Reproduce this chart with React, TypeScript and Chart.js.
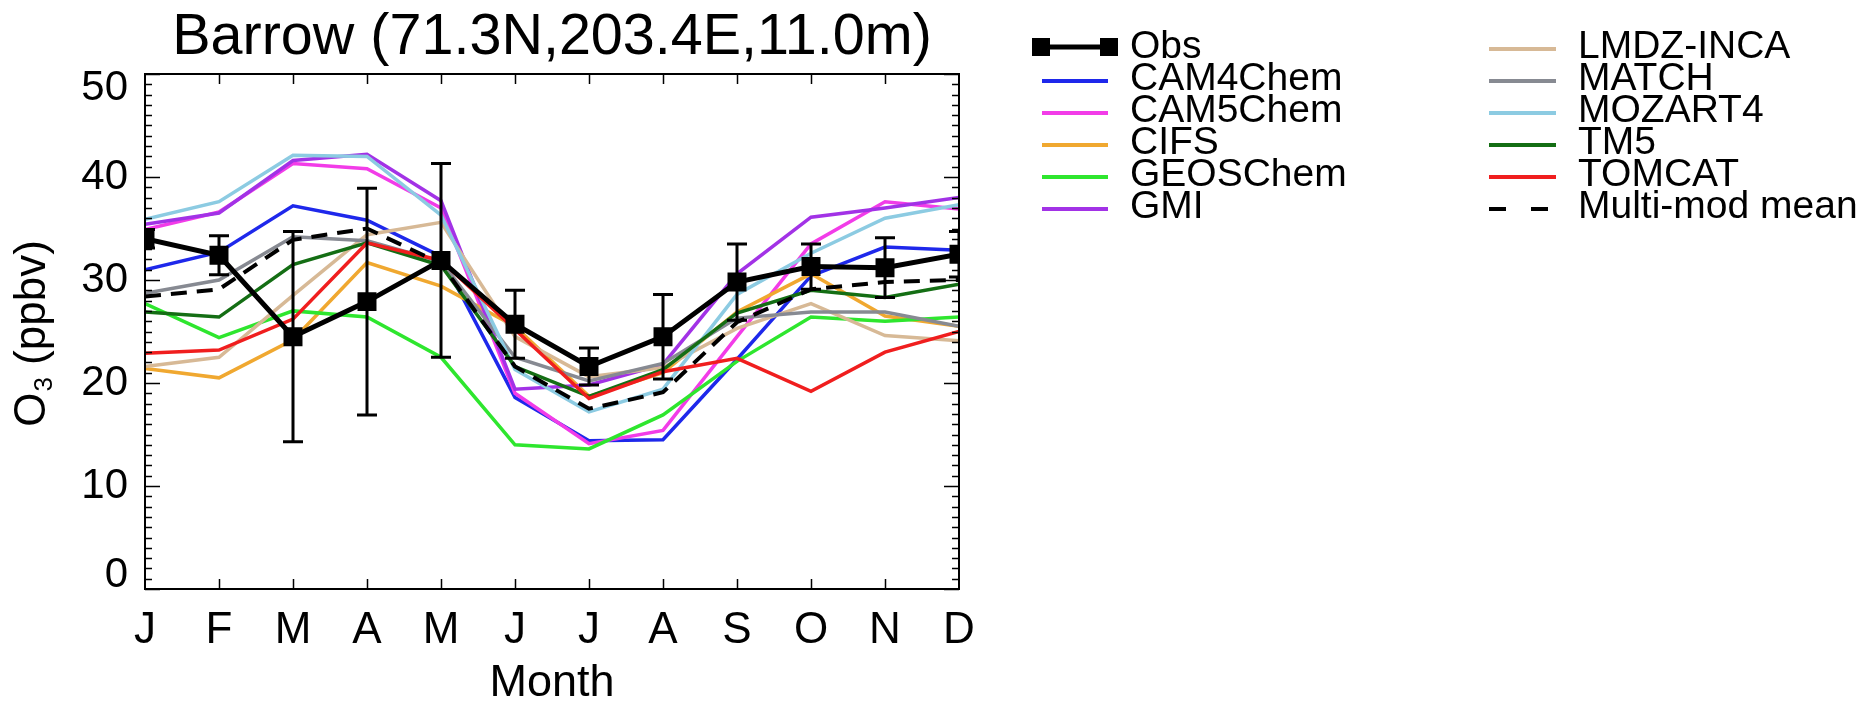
import React, { useEffect, useRef } from "react";
import { Chart, registerables } from "chart.js";

Chart.register(...registerables);

// ---------- data ----------
const months = ["J", "F", "M", "A", "M", "J", "J", "A", "S", "O", "N", "D"];
const yMin = 0;
const yMax = 50;
const yStep = 10;

const obs = [34.0, 32.4, 24.5, 27.9, 31.9, 25.7, 21.6, 24.5, 29.8, 31.3, 31.2, 32.5];
const obsErr = [0.9, 1.9, 10.2, 11.0, 9.4, 3.3, 1.8, 4.1, 3.7, 2.2, 2.9, 2.2];

const cam4chem = [31.0, 32.7, 37.2, 35.8, 32.3, 18.6, 14.4, 14.5, 22.3, 30.4, 33.2, 32.9];
const cam5chem = [34.9, 36.6, 41.3, 40.8, 37.0, 19.0, 14.1, 15.4, 24.5, 33.5, 37.6, 36.9];
const cifs = [21.4, 20.5, 24.2, 31.7, 29.4, 25.5, 18.7, 21.0, 26.9, 30.6, 26.5, 25.5];
const geoschem = [27.7, 24.4, 27.0, 26.4, 22.5, 14.0, 13.6, 16.9, 22.1, 26.4, 26.0, 26.4];
const gmi = [35.4, 36.5, 41.6, 42.2, 37.7, 19.4, 19.8, 21.8, 30.6, 36.1, 37.0, 38.0];
const lmdzInca = [21.6, 22.5, 28.5, 34.4, 35.6, 24.5, 20.6, 21.5, 25.3, 27.7, 24.6, 24.1];
const match = [28.7, 30.0, 34.2, 33.8, 31.8, 22.5, 20.2, 21.9, 26.3, 26.9, 26.9, 25.5];
const mozart4 = [35.9, 37.6, 42.1, 42.0, 36.3, 21.3, 17.2, 19.4, 28.6, 32.6, 36.0, 37.3];
const tm5 = [26.9, 26.4, 31.5, 33.6, 31.4, 21.6, 18.7, 21.3, 26.8, 29.0, 28.3, 29.6];
const tomcat = [22.9, 23.2, 26.2, 33.6, 31.9, 25.2, 18.5, 21.1, 22.4, 19.2, 23.0, 25.0];
const multiModMean = [28.4, 29.1, 33.9, 35.0, 31.6, 21.6, 17.5, 19.1, 25.9, 29.1, 29.8, 30.0];

const titleText = "Barrow (71.3N,203.4E,11.0m)";
const xTitle = "Month";

const legendCol1 = [
  { label: "CAM4Chem", color: "#1e28eb" },
  { label: "CAM5Chem", color: "#f23ce8" },
  { label: "CIFS", color: "#f0a830" },
  { label: "GEOSChem", color: "#2ee62e" },
  { label: "GMI", color: "#a232e6" },
];
const legendCol2 = [
  { label: "LMDZ-INCA", color: "#d7b996" },
  { label: "MATCH", color: "#878a92" },
  { label: "MOZART4", color: "#8ccbe2" },
  { label: "TM5", color: "#146e14" },
  { label: "TOMCAT", color: "#f01e1e" },
];

const FONT = '"Liberation Sans", Arial, Helvetica, sans-serif';

const modelLine = (label: string, data: number[], color: string) => ({
  label,
  data,
  borderColor: color,
  backgroundColor: color,
  borderWidth: 3.5,
  pointRadius: 0,
  tension: 0,
  clip: 0,
});

const decorPlugin = {
  id: "decor",
  afterDatasetsDraw(chart: any) {
    const { ctx, chartArea, scales } = chart;
    const { left, right, top, bottom } = chartArea;
    const x = scales.x;
    const y = scales.y;
    // error bars on observations
    ctx.save();
    ctx.beginPath();
    ctx.rect(left, top, right - left, bottom - top);
    ctx.clip();
    ctx.strokeStyle = "#000";
    ctx.lineWidth = 3;
    obs.forEach((v, i) => {
      const px = x.getPixelForValue(i);
      const yt = y.getPixelForValue(v + obsErr[i]);
      const yb = y.getPixelForValue(v - obsErr[i]);
      ctx.beginPath();
      ctx.moveTo(px, yt);
      ctx.lineTo(px, yb);
      ctx.moveTo(px - 10, yt);
      ctx.lineTo(px + 10, yt);
      ctx.moveTo(px - 10, yb);
      ctx.lineTo(px + 10, yb);
      ctx.stroke();
    });
    ctx.restore();
  },
  afterDraw(chart: any) {
    const { ctx, chartArea, scales } = chart;
    const { left, right, top, bottom } = chartArea;
    const x = scales.x;
    const y = scales.y;
    ctx.save();
    // frame
    ctx.strokeStyle = "#000";
    ctx.lineWidth = 2;
    ctx.strokeRect(left, top, right - left, bottom - top);
    // y ticks (inward, both sides)
    ctx.lineWidth = 1.5;
    ctx.beginPath();
    for (let v = yMin; v <= yMax; v += 1) {
      const py = Math.round(y.getPixelForValue(v)) + 0.5;
      const len = v % yStep === 0 ? 15 : 7;
      ctx.moveTo(left, py);
      ctx.lineTo(left + len, py);
      ctx.moveTo(right, py);
      ctx.lineTo(right - len, py);
    }
    // x ticks (inward, top and bottom)
    for (let i = 1; i < months.length - 1; i++) {
      const px = Math.round(x.getPixelForValue(i)) + 0.5;
      ctx.moveTo(px, bottom);
      ctx.lineTo(px, bottom - 10);
      ctx.moveTo(px, top);
      ctx.lineTo(px, top + 10);
    }
    ctx.stroke();

    ctx.fillStyle = "#000";
    // y tick labels (end labels nudged inward as in the original)
    ctx.font = `42px ${FONT}`;
    ctx.textAlign = "right";
    ctx.textBaseline = "middle";
    for (let v = yMin; v <= yMax; v += yStep) {
      let py = y.getPixelForValue(v);
      if (v === yMax) py += 14;
      if (v === yMin) py -= 14;
      ctx.fillText(String(v), left - 17, py);
    }

    // title
    ctx.font = `57.5px ${FONT}`;
    ctx.textAlign = "center";
    ctx.textBaseline = "alphabetic";
    ctx.fillText(titleText, (left + right) / 2, 54);
    // x title
    ctx.font = `45px ${FONT}`;
    ctx.fillText(xTitle, (left + right) / 2, 696);

    // y title: O3 (ppbv) with subscript
    ctx.save();
    ctx.translate(45, 334);
    ctx.rotate(-Math.PI / 2);
    ctx.textAlign = "left";
    ctx.font = `44px ${FONT}`;
    const wO = ctx.measureText("O").width;
    const rest = " (ppbv)";
    const wR = ctx.measureText(rest).width;
    ctx.font = `26px ${FONT}`;
    const w3 = ctx.measureText("3").width;
    let sx = -(wO + w3 + wR) / 2;
    ctx.font = `44px ${FONT}`;
    ctx.fillText("O", sx, 0);
    sx += wO;
    ctx.font = `26px ${FONT}`;
    ctx.fillText("3", sx + 1, 7);
    sx += w3 + 1;
    ctx.font = `44px ${FONT}`;
    ctx.fillText(rest, sx, 0);
    ctx.restore();

    // legend
    const rowY = (i: number) => 58 + 32 * i;
    ctx.font = `39px ${FONT}`;
    ctx.textAlign = "left";
    ctx.textBaseline = "alphabetic";
    // Obs entry
    const oy = rowY(0) - 11;
    ctx.strokeStyle = "#000";
    ctx.lineWidth = 5;
    ctx.beginPath();
    ctx.moveTo(1041, oy);
    ctx.lineTo(1109, oy);
    ctx.stroke();
    ctx.fillRect(1032, oy - 9, 18, 18);
    ctx.fillRect(1100, oy - 9, 18, 18);
    ctx.fillText("Obs", 1130, rowY(0));
    legendCol1.forEach((e, i) => {
      const ly = rowY(i + 1) - 9;
      ctx.strokeStyle = e.color;
      ctx.lineWidth = 4;
      ctx.beginPath();
      ctx.moveTo(1042, ly);
      ctx.lineTo(1108, ly);
      ctx.stroke();
      ctx.fillText(e.label, 1130, rowY(i + 1));
    });
    legendCol2.forEach((e, i) => {
      const ly = rowY(i) - 9;
      ctx.strokeStyle = e.color;
      ctx.lineWidth = 4;
      ctx.beginPath();
      ctx.moveTo(1489, ly);
      ctx.lineTo(1556, ly);
      ctx.stroke();
      ctx.fillText(e.label, 1578, rowY(i));
    });
    const my = rowY(5) - 9;
    ctx.strokeStyle = "#000";
    ctx.lineWidth = 4;
    ctx.setLineDash([17, 25]);
    ctx.beginPath();
    ctx.moveTo(1489, my);
    ctx.lineTo(1556, my);
    ctx.stroke();
    ctx.setLineDash([]);
    ctx.fillText("Multi-mod mean", 1578, rowY(5));
    ctx.restore();
  },
};

export default function App() {
  const canvasRef = useRef<HTMLCanvasElement | null>(null);

  useEffect(() => {
    document.body.style.margin = "0";
    const canvas = canvasRef.current;
    if (!canvas) return;
    const chart = new Chart(canvas, {
      type: "line",
      data: {
        labels: months,
        datasets: [
          {
            label: "Obs",
            data: obs,
            borderColor: "#000",
            backgroundColor: "#000",
            borderWidth: 5,
            pointStyle: "rect",
            pointRadius: 12,
            pointBorderWidth: 2,
            pointBackgroundColor: "#000",
            pointBorderColor: "#000",
            tension: 0,
            clip: 0,
          },
          {
            label: "Multi-mod mean",
            data: multiModMean,
            borderColor: "#000",
            borderWidth: 4,
            borderDash: [16, 10],
            pointRadius: 0,
            tension: 0,
            clip: 0,
          },
          modelLine("TOMCAT", tomcat, "#f01e1e"),
          modelLine("TM5", tm5, "#146e14"),
          modelLine("MOZART4", mozart4, "#8ccbe2"),
          modelLine("MATCH", match, "#878a92"),
          modelLine("LMDZ-INCA", lmdzInca, "#d7b996"),
          modelLine("GMI", gmi, "#a232e6"),
          modelLine("GEOSChem", geoschem, "#2ee62e"),
          modelLine("CIFS", cifs, "#f0a830"),
          modelLine("CAM5Chem", cam5chem, "#f23ce8"),
          modelLine("CAM4Chem", cam4chem, "#1e28eb"),
        ] as any,
      },
      options: {
        animation: false,
        responsive: false,
        devicePixelRatio: 1,
        layout: { padding: { left: 0, top: 74, right: 917, bottom: 0 } },
        plugins: {
          legend: { display: false },
          tooltip: { enabled: false },
          title: { display: false },
        },
        scales: {
          x: {
            type: "category",
            offset: false,
            grid: { display: false, drawTicks: false },
            border: { display: false },
            ticks: {
              color: "#000",
              font: { family: FONT, size: 44 },
              padding: 15,
              maxRotation: 0,
              autoSkip: false,
            },
            afterFit: (s: any) => {
              s.height = 112;
            },
          },
          y: {
            type: "linear",
            min: yMin,
            max: yMax,
            grid: { display: false, drawTicks: false },
            border: { display: false },
            ticks: {
              stepSize: yStep,
              display: false,
            },
            afterFit: (s: any) => {
              s.width = 145;
            },
          },
        },
      },
      plugins: [decorPlugin],
    });
    return () => chart.destroy();
  }, []);

  return (
    <div style={{ width: 1876, height: 701, position: "relative", background: "#fff" }}>
      <canvas ref={canvasRef} width={1876} height={701} style={{ display: "block" }} />
    </div>
  );
}
